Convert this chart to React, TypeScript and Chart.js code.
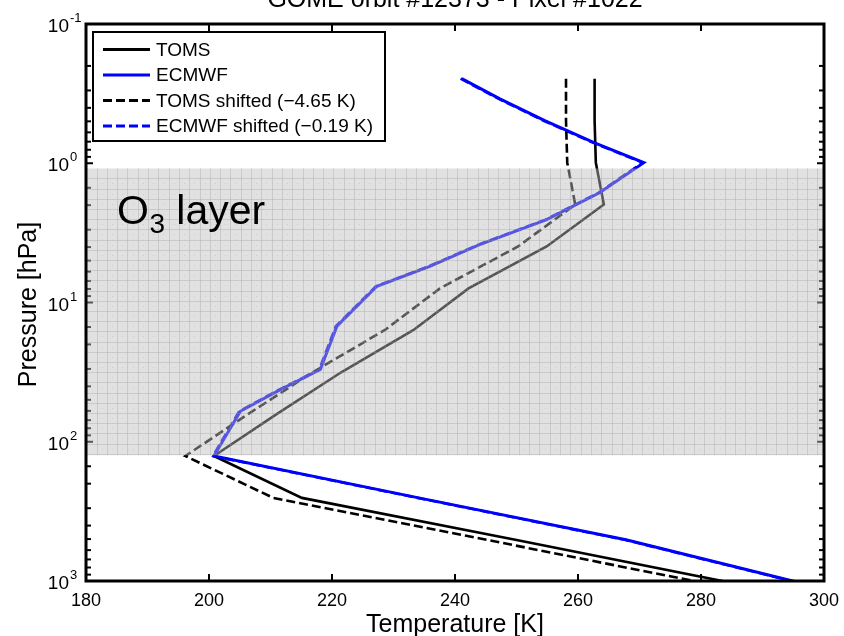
import React, { useEffect, useRef } from 'react';
import { Chart, registerables } from 'chart.js';

Chart.register(...registerables);

const FONT = '"Liberation Sans", Arial, Helvetica, sans-serif';

const chartTitle = 'GOME orbit #12373 - Pixel #1022';
const xTitle = 'Temperature [K]';
const yTitle = 'Pressure [hPa]';
const bandLabelMain = 'O';
const bandLabelSub = '3';
const bandLabelRest = 'layer';
const seriesLabels = ['TOMS', 'ECMWF', 'TOMS shifted (\u22124.65 K)', 'ECMWF shifted (\u22120.19 K)'];
const xTicks = [180, 200, 220, 240, 260, 280, 300];
const yDecades = [-1, 0, 1, 2, 3];

const tomsPressure = [0.247, 0.495, 0.99, 1.98, 3.96, 7.92, 15.8, 31.7, 63.3, 126.6, 253, 506, 1013];
const tomsTemp = [262.7, 262.7, 262.9, 264.2, 254.9, 242.2, 233.2, 221.5, 211.0, 200.8, 215.1, 249.8, 284.1];
const tomsShiftedTemp = [258.05, 258.05, 258.25, 259.55, 250.25, 237.55, 228.55, 216.85, 206.35, 196.15, 210.45, 245.15, 279.45];

const ecmwfPressure = [0.247, 0.345, 0.495, 0.714, 0.99, 1.63, 2.54, 3.84, 5.5, 7.65, 14.8, 30.3, 42.2, 60.4, 126.6, 253, 506, 1013];
const ecmwfTemp = [241.1, 247.3, 254.6, 262.7, 270.7, 263.5, 254.9, 244.0, 235.9, 227.3, 220.8, 218.1, 211.6, 205.1, 200.8, 234.1, 267.8, 295.4];
const ecmwfShiftedTemp = [240.91, 247.11, 254.41, 262.51, 270.51, 263.31, 254.71, 243.81, 235.71, 227.11, 220.61, 217.91, 211.41, 204.91, 200.61, 233.91, 267.61, 295.21];

const o3Band = [1.09, 125];

const toPoints = (t: number[], p: number[]) => t.map((v, i) => ({ x: v, y: p[i] }));

const isPow10 = (v: number) => Math.abs(Math.log10(v) - Math.round(Math.log10(v))) < 1e-6;

const decorPlugin = {
  id: 'decor',
  afterDatasetsDraw(chart: any) {
    const { ctx, chartArea: a, scales } = chart;
    const xs = scales.x;
    const ys = scales.y;
    ctx.save();
    const line = (x1: number, y1: number, x2: number, y2: number) => {
      ctx.beginPath();
      ctx.moveTo(x1, y1);
      ctx.lineTo(x2, y2);
      ctx.stroke();
    };
    ctx.strokeStyle = '#000';
    ctx.lineWidth = 2;
    xTicks.forEach((v) => {
      if (v === xTicks[0] || v === xTicks[xTicks.length - 1]) return;
      const px = xs.getPixelForValue(v);
      line(px, a.bottom, px, a.bottom - 7);
      line(px, a.top, px, a.top + 7);
    });
    ys.ticks.forEach((t: any) => {
      const py = ys.getPixelForValue(t.value);
      const len = isPow10(t.value) ? 7 : 5;
      line(a.left, py, a.left + len, py);
      line(a.right, py, a.right - len, py);
    });
    // O3 layer band overlay
    const y1 = ys.getPixelForValue(o3Band[0]);
    const y2 = ys.getPixelForValue(o3Band[1]);
    ctx.fillStyle = 'rgba(188,188,188,0.45)';
    ctx.fillRect(a.left, y1, a.right - a.left, y2 - y1);
    // mesh pattern
    ctx.strokeStyle = 'rgba(150,150,150,0.3)';
    ctx.lineWidth = 1;
    const stepX = 10.3;
    for (let x = a.left + 10.5; x < a.right; x += stepX) {
      line(Math.round(x) + 0.5, y1, Math.round(x) + 0.5, y2);
    }
    for (let y = y1 + 10; y < y2; y += 10.2) {
      line(a.left, Math.round(y) + 0.5, a.right, Math.round(y) + 0.5);
    }
    ctx.fillStyle = 'rgba(170,170,170,0.35)';
    for (let x = a.left + 10.5 + stepX / 2; x < a.right; x += stepX) {
      for (let y = y1 + 10 + 5; y < y2; y += 10.2) {
        ctx.fillRect(Math.round(x), Math.round(y), 1, 1);
      }
    }
    ctx.restore();
  },
  afterDraw(chart: any) {
    const { ctx, chartArea: a, scales } = chart;
    const ys = scales.y;
    ctx.save();
    // frame
    ctx.strokeStyle = '#000';
    ctx.lineWidth = 3;
    ctx.strokeRect(a.left, a.top, a.right - a.left, a.bottom - a.top);

    ctx.fillStyle = '#000';
    // y tick labels with exponents
    yDecades.forEach((e) => {
      const py = ys.getPixelForValue(Math.pow(10, e));
      ctx.font = `19px ${FONT}`;
      ctx.textAlign = 'right';
      ctx.textBaseline = 'alphabetic';
      ctx.fillText('10', a.left - 17, py + 8);
      ctx.font = `13px ${FONT}`;
      ctx.textAlign = 'left';
      ctx.fillText(String(e), a.left - 16, py - 2);
    });

    // title
    const cx = (a.left + a.right) / 2;
    ctx.font = `25px ${FONT}`;
    ctx.textAlign = 'center';
    ctx.textBaseline = 'alphabetic';
    ctx.fillText(chartTitle, cx, 7);

    // x title
    ctx.fillText(xTitle, cx, 632);

    // y title
    ctx.save();
    ctx.translate(36, (a.top + a.bottom) / 2 + 2);
    ctx.rotate(-Math.PI / 2);
    ctx.textAlign = 'center';
    ctx.fillText(yTitle, 0, 0);
    ctx.restore();

    // O3 layer label
    ctx.textAlign = 'left';
    ctx.font = `41px ${FONT}`;
    let tx = a.left + 31;
    ctx.fillText(bandLabelMain, tx, 224);
    tx += ctx.measureText(bandLabelMain).width + 0.5;
    ctx.font = `28px ${FONT}`;
    ctx.fillText(bandLabelSub, tx, 233);
    tx += ctx.measureText(bandLabelSub).width;
    ctx.font = `41px ${FONT}`;
    tx += ctx.measureText(' ').width;
    ctx.fillText(bandLabelRest, tx, 224);

    // legend
    const lx = 93, ly = 32, lw = 292, lh = 109;
    ctx.fillStyle = '#fff';
    ctx.fillRect(lx, ly, lw, lh);
    ctx.strokeStyle = '#000';
    ctx.lineWidth = 2;
    ctx.strokeRect(lx, ly, lw, lh);
    const rows = [49.5, 75, 100.5, 126];
    chart.data.datasets.forEach((ds: any, i: number) => {
      const ry = rows[i];
      ctx.strokeStyle = ds.borderColor;
      ctx.lineWidth = 3;
      ctx.setLineDash(ds.borderDash || []);
      ctx.beginPath();
      ctx.moveTo(103, ry);
      ctx.lineTo(150, ry);
      ctx.stroke();
      ctx.setLineDash([]);
      ctx.fillStyle = '#000';
      ctx.font = `19px ${FONT}`;
      ctx.textBaseline = 'middle';
      ctx.fillText(ds.label, 156, ry + 1);
    });
    ctx.restore();
  },
};

export default function App() {
  const ref = useRef<HTMLCanvasElement | null>(null);
  useEffect(() => {
    if (!ref.current) return;
    const chart = new Chart(ref.current, {
      type: 'line',
      data: {
        datasets: [
          {
            label: seriesLabels[0],
            data: toPoints(tomsTemp, tomsPressure),
            borderColor: '#000000',
            borderWidth: 2.6,
            pointRadius: 0,
            tension: 0,
            order: 1,
          },
          {
            label: seriesLabels[1],
            data: toPoints(ecmwfTemp, ecmwfPressure),
            borderColor: '#0000ff',
            borderWidth: 3,
            pointRadius: 0,
            tension: 0,
            order: 0,
          },
          {
            label: seriesLabels[2],
            data: toPoints(tomsShiftedTemp, tomsPressure),
            borderColor: '#000000',
            borderWidth: 2.6,
            borderDash: [9, 4],
            pointRadius: 0,
            tension: 0,
            order: 2,
          },
          {
            label: seriesLabels[3],
            data: toPoints(ecmwfShiftedTemp, ecmwfPressure),
            borderColor: '#0000ff',
            borderWidth: 2.6,
            borderDash: [9, 4],
            pointRadius: 0,
            tension: 0,
            order: 3,
          },
        ],
      },
      options: {
        animation: false,
        responsive: false,
        devicePixelRatio: 1,
        events: [],
        layout: { padding: { top: 24, right: 20, left: 0, bottom: 0 } },
        plugins: {
          legend: { display: false },
          tooltip: { enabled: false },
          title: { display: false },
        },
        scales: {
          x: {
            type: 'linear',
            min: xTicks[0],
            max: xTicks[xTicks.length - 1],
            grid: { display: false, drawTicks: false },
            border: { display: false },
            ticks: {
              stepSize: 20,
              color: '#000',
              padding: 9,
              font: { family: FONT, size: 18 },
              maxRotation: 0,
            },
            afterFit: (s: any) => {
              s.height = 55;
              s.paddingLeft = 0;
              s.paddingRight = 0;
            },
          },
          y: {
            type: 'logarithmic',
            reverse: true,
            min: Math.pow(10, yDecades[0]),
            max: Math.pow(10, yDecades[yDecades.length - 1]),
            grid: { display: false, drawTicks: false },
            border: { display: false },
            ticks: { display: false },
            afterFit: (s: any) => {
              s.width = 86;
              s.paddingTop = 0;
              s.paddingBottom = 0;
            },
          },
        },
      },
      plugins: [decorPlugin],
    } as any);
    return () => chart.destroy();
  }, []);
  return (
    <div style={{ position: 'absolute', left: 0, top: 0, width: 844, height: 636, background: '#fff' }}>
      <canvas ref={ref} width={844} height={636} style={{ display: 'block' }} />
    </div>
  );
}
